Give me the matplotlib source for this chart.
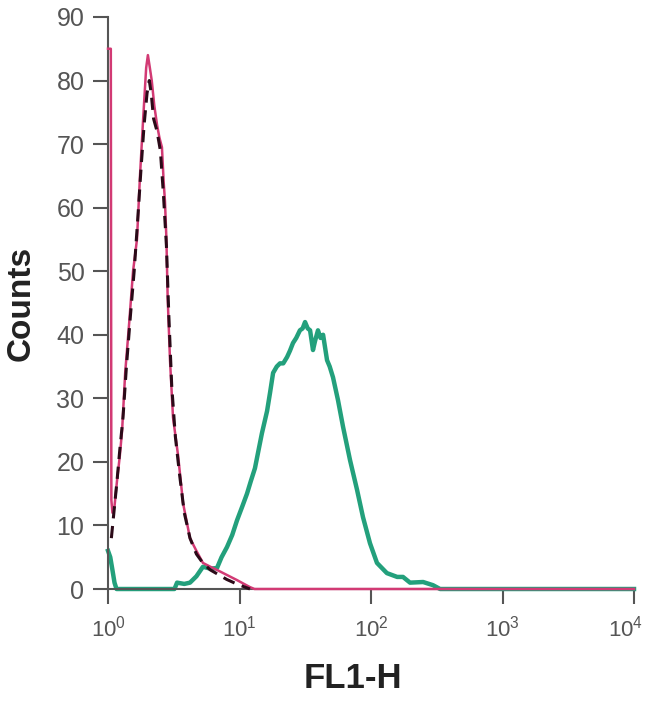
import matplotlib
matplotlib.use('Agg')
import matplotlib.pyplot as plt
import matplotlib.transforms as mtransforms
from matplotlib.ticker import FixedLocator, NullLocator

plt.rcParams['font.family'] = ['Liberation Sans', 'DejaVu Sans']
plt.rcParams['mathtext.default'] = 'regular'

# FL1-H channel values and counts
pink_x = [1.00, 1.05, 1.06, 1.08, 1.12, 1.17, 1.23, 1.28, 1.35, 1.45, 1.55, 1.66, 1.75,
          1.85, 1.95, 2.01, 2.08, 2.15, 2.25, 2.36, 2.46, 2.57, 2.65, 2.71, 2.78,
          2.84, 2.96, 3.12, 3.41, 3.72, 4.20, 4.70, 5.27, 6.00, 6.74, 8.03, 9.57,
          10.6, 12.0, 13.0, 10000]
pink_y = [85, 85, 14, 12, 13, 17, 21, 25, 34, 42, 50, 55, 65,
          74, 82, 84, 82, 80, 76, 73, 71, 69.5, 64, 61, 55,
          46, 36, 27, 21, 13.5, 8, 6, 4.1, 3.5, 3, 2.2, 1.4,
          0.9, 0.3, 0, 0]

dash_x = [1.06, 1.12, 1.17, 1.23, 1.30, 1.38, 1.48, 1.58, 1.68, 1.78, 1.88, 1.98,
          2.06, 2.13, 2.22, 2.36, 2.50, 2.64, 2.78, 2.90, 3.05, 3.25, 3.50, 3.80,
          4.20, 4.70, 5.30, 6.00, 7.00, 8.00, 9.50, 11.0, 12.0]
dash_y = [8, 13, 17, 22, 27, 35, 43, 50, 58, 66, 73, 78,
          80, 78, 74, 72, 69, 62, 54, 43, 32, 24, 18, 12,
          8, 5.5, 4, 3, 2.2, 1.5, 0.8, 0.3, 0]

green_x = [1.00, 1.04, 1.08, 1.12, 1.16, 3.2, 3.35, 3.8, 4.2, 4.7, 5.27, 6.0,
           6.74, 7.3, 8.03, 8.8, 9.57, 10.5, 11.4, 12.2, 13.1, 14.0, 14.8, 16.2,
           17.1, 18.0, 19.2, 20.3, 21.5, 23.0, 24.2, 25.5, 27.0, 28.8, 30.2, 31.5,
           33.0, 34.4, 36.2, 37.5, 39.5, 41.3, 43.2, 46.3, 48.5, 51.4, 56.1, 61.3,
           69.2, 78.3, 86.9, 98.2, 111, 132, 158, 175, 198, 249, 296, 335, 10000]
green_y = [6, 5, 3, 1, 0, 0, 1, 0.8, 1, 2, 3.5, 3.2,
           3.3, 5, 6.6, 8.5, 10.8, 13, 15, 17, 19, 22, 24.5, 28,
           31, 34, 35, 35.5, 35.5, 36.5, 37.5, 38.7, 39.5, 40.7, 41, 42,
           41, 40.7, 37.6, 39, 40.7, 39.5, 40, 36, 35, 33.3, 29.7, 25.5,
           20.3, 15.6, 11.3, 7.2, 4.1, 2.5, 1.9, 1.9, 1, 1.1, 0.6, 0, 0]

y_ticks = [0, 10, 20, 30, 40, 50, 60, 70, 80, 90]
x_ticks = [1, 10, 100, 1000, 10000]
x_labels = [r'$\mathregular{10^{%d}}$' % i for i in range(5)]

fig = plt.figure(figsize=(6.5, 7.07), dpi=100)
ax = fig.add_axes([0.1662, 0.1669, 0.8092, 0.8091])

ax.plot(green_x, green_y, color='#23a07c', linewidth=3.2, clip_on=False, zorder=2)
ax.plot(pink_x, pink_y, color='#d23a74', linewidth=1.8, clip_on=False, zorder=3)
ax.plot(dash_x, dash_y, color='#2b0a18', linewidth=2.2, linestyle=(0, (4, 2.5)),
        clip_on=False, zorder=4)

ax.set_xscale('log')
ax.set_xlim(1, 10000)
ax.set_ylim(0, 90)
ax.xaxis.set_major_locator(FixedLocator(x_ticks))
ax.xaxis.set_minor_locator(NullLocator())
ax.set_xticklabels(x_labels)
ax.set_yticks(y_ticks)

for side in ['top', 'right']:
    ax.spines[side].set_visible(False)
for side in ['left', 'bottom']:
    ax.spines[side].set_color('#555555')
    ax.spines[side].set_linewidth(1.5)

ax.tick_params(axis='both', length=11, width=1.5, color='#555555',
               labelsize=18, labelcolor='#555555', pad=6)
ax.tick_params(axis='x', labelsize=16, pad=8)

# shift the 10^4 label a little left so it stays inside the figure
last = ax.get_xticklabels()[-1]
last.set_transform(last.get_transform() +
                   mtransforms.ScaledTranslation(-6 / 72, 0, fig.dpi_scale_trans))

ax.set_ylabel('Counts', fontsize=24, fontweight='bold', color='#222222', labelpad=14)
fig.text(0.543, 0.04, 'FL1-H', fontsize=25, fontweight='bold', color='#222222',
         ha='center', va='center')

fig.savefig('out.png', dpi=100)
